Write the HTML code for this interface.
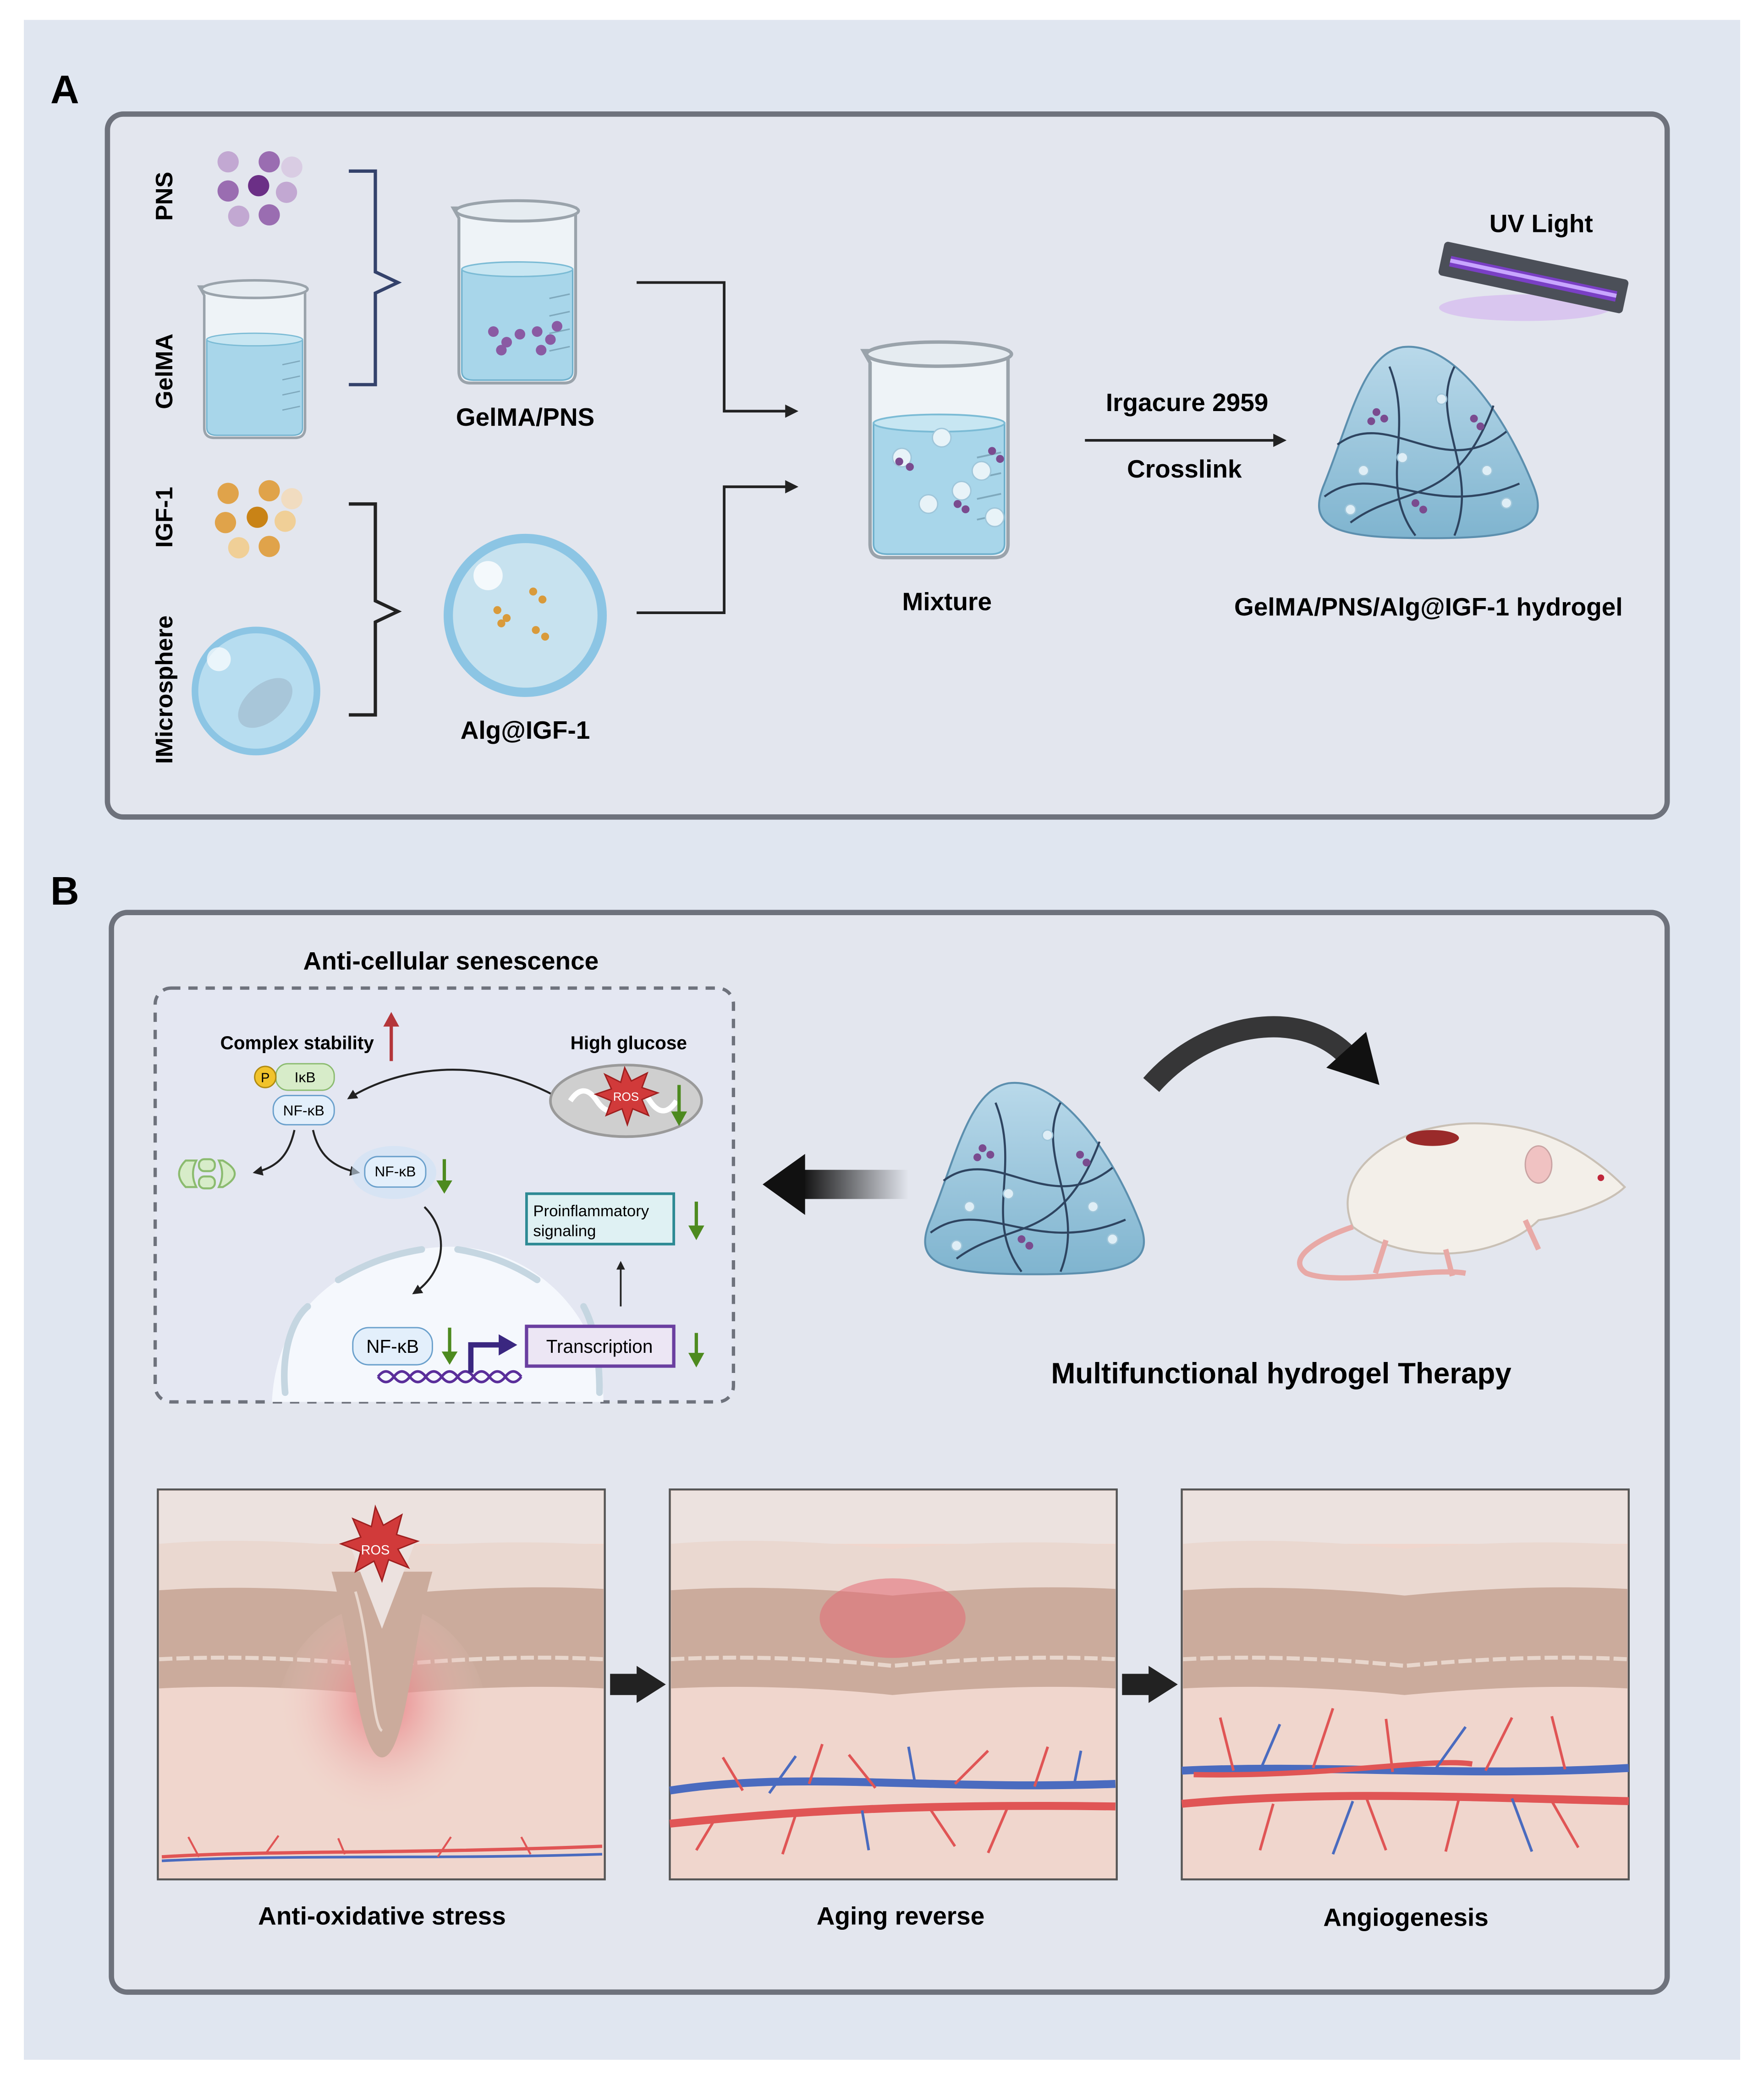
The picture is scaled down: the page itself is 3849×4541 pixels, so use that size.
<!DOCTYPE html>
<html><head><meta charset="utf-8"><style>
html,body{margin:0;padding:0;background:#fff;}
svg{display:block;}
text{font-family:"Liberation Sans",sans-serif;}
</style></head><body>
<svg width="3849" height="4541" viewBox="0 0 1330 1569" preserveAspectRatio="none" xmlns="http://www.w3.org/2000/svg">
<defs>
<marker id="ah" viewBox="0 0 10 10" refX="8" refY="5" markerWidth="5" markerHeight="5" orient="auto"><path d="M0,0 L10,5 L0,10 z" fill="#222"/></marker>
<radialGradient id="red" cx="50%" cy="40%" r="50%"><stop offset="0" stop-color="#e8737a" stop-opacity="0.9"/><stop offset="1" stop-color="#f0d5cc" stop-opacity="0"/></radialGradient>
<linearGradient id="fadeL" x1="0" x2="1"><stop offset="0" stop-color="#111"/><stop offset="1" stop-color="#111" stop-opacity="0"/></linearGradient>
<linearGradient id="gel" x1="0" y1="0" x2="0" y2="1"><stop offset="0" stop-color="#b9d9ea"/><stop offset="1" stop-color="#7fb4cf"/></linearGradient>
<g id="hydro">
<path d="M-20,-85 C20,-90 60,-30 80,20 C95,55 70,62 0,62 C-70,62 -95,55 -80,20 C-60,-30 -50,-80 -20,-85 Z" fill="url(#gel)" stroke="#5c8fae" stroke-width="1.5"/>
<path d="M-70,-10 C-30,-40 10,20 60,-20 M-80,30 C-40,0 0,50 70,20 M-30,-70 C-10,-20 -40,20 -10,60 M20,-70 C0,-30 40,10 20,60 M-60,50 C-20,20 20,40 50,-40" fill="none" stroke="#2e4460" stroke-width="1.6"/>
<g fill="#7a4b8f"><circle cx="-40" cy="-35" r="3"/><circle cx="-34" cy="-30" r="3"/><circle cx="-44" cy="-28" r="3"/><circle cx="35" cy="-30" r="3"/><circle cx="40" cy="-24" r="3"/><circle cx="-10" cy="35" r="3"/><circle cx="-4" cy="40" r="3"/></g>
<g fill="#dfeef6" stroke="#9fc6da"><circle cx="-50" cy="10" r="4"/><circle cx="10" cy="-45" r="4"/><circle cx="45" cy="10" r="4"/><circle cx="-20" cy="0" r="4"/><circle cx="60" cy="35" r="4"/><circle cx="-60" cy="40" r="4"/></g>
</g>
<g id="beaker">
<path d="M-40,-55 L-44,-62 L40,-62 L40,50 Q40,58 32,58 L-32,58 Q-40,58 -40,50 Z" fill="#eef3f7" stroke="#9aa3ab" stroke-width="2"/>
<path d="M-38,-20 L38,-20 L38,50 Q38,56 30,56 L-30,56 Q-38,56 -38,50 Z" fill="#a8d6ea" stroke="#6fb0cc" stroke-width="1"/>
<ellipse cx="0" cy="-20" rx="38" ry="5" fill="#c7e6f2" stroke="#7bbbd5"/>
<ellipse cx="0" cy="-60" rx="42" ry="7" fill="#e6ecf1" stroke="#9aa3ab" stroke-width="2"/>
<path d="M22,0 L36,-3 M22,12 L36,9 M22,24 L36,21 M22,36 L36,33" stroke="#7fa9bd" stroke-width="1"/>
</g>
<g id="skin">
<rect x="0" y="0" width="337" height="294" fill="#f0d6cd" stroke="#555" stroke-width="1.5"/>
<rect x="1" y="1" width="335" height="40" fill="#ece2df"/>
<path d="M1,41 C60,36 120,40 168,45 C220,40 280,38 336,42 L336,75 C280,72 220,75 168,80 C120,75 60,72 1,76 Z" fill="#ead8d0"/>
<path d="M1,76 C60,72 120,75 168,80 C220,75 280,72 336,75 L336,150 C280,147 220,150 168,155 C120,150 60,147 1,150 Z" fill="#cbab9c"/>
<path d="M1,128 C60,125 120,128 168,133 C220,128 280,125 336,128" fill="none" stroke="#e8d6cc" stroke-width="3" stroke-dasharray="10,3"/>
</g>
</defs>
<rect width="1330" height="1569" fill="#fff"/>
<rect x="18" y="15" width="1294" height="1538" fill="#e0e6f0"/>
<text x="38" y="78" font-size="30" font-weight="bold">A</text>
<text x="38" y="682" font-size="30" font-weight="bold">B</text>
<rect x="81" y="86" width="1176" height="530" rx="12" fill="#e3e6ee" stroke="#6e727c" stroke-width="4"/>
<rect x="84" y="688" width="1173" height="814" rx="12" fill="#e3e6ee" stroke="#6e727c" stroke-width="4"/>

<!-- Panel A -->
<g font-weight="bold" font-size="18">
<text transform="translate(130,148) rotate(-90)" text-anchor="middle">PNS</text>
<text transform="translate(130,280) rotate(-90)" text-anchor="middle">GelMA</text>
<text transform="translate(130,390) rotate(-90)" text-anchor="middle">IGF-1</text>
<text transform="translate(130,520) rotate(-90)" text-anchor="middle">IMicrosphere</text>
</g>
<g fill="#9a6db1"><circle cx="172" cy="122" r="8" fill="#c2a8d2"/><circle cx="203" cy="122" r="8"/><circle cx="220" cy="126" r="8" fill="#d9cce3"/><circle cx="172" cy="144" r="8"/><circle cx="195" cy="140" r="8" fill="#6b2f86"/><circle cx="216" cy="145" r="8" fill="#c2a8d2"/><circle cx="180" cy="163" r="8" fill="#c2a8d2"/><circle cx="203" cy="162" r="8"/></g>
<use href="#beaker" transform="translate(192,275) scale(0.95)"/>
<path d="M263,129 H283 V205 L300,213 L283,221 V290 H263" fill="none" stroke="#34426b" stroke-width="2.5"/>
<use href="#beaker" transform="translate(390,225) scale(1.1)"/>
<g fill="#8a5aa3"><circle cx="372" cy="250" r="4"/><circle cx="382" cy="258" r="4"/><circle cx="392" cy="252" r="4"/><circle cx="378" cy="264" r="4"/><circle cx="405" cy="250" r="4"/><circle cx="415" cy="256" r="4"/><circle cx="408" cy="264" r="4"/><circle cx="420" cy="246" r="4"/></g>
<text x="396" y="321" font-size="19" font-weight="bold" text-anchor="middle">GelMA/PNS</text>
<g fill="#e0a34a"><circle cx="172" cy="372" r="8"/><circle cx="203" cy="370" r="8"/><circle cx="220" cy="376" r="8" fill="#f1dcc0"/><circle cx="170" cy="394" r="8"/><circle cx="194" cy="390" r="8" fill="#c98316"/><circle cx="215" cy="393" r="8" fill="#f0cf97"/><circle cx="180" cy="413" r="8" fill="#f0cf97"/><circle cx="203" cy="412" r="8"/></g>
<circle cx="193" cy="521" r="46" fill="#b7ddf0" stroke="#8cc5e4" stroke-width="5"/>
<ellipse cx="200" cy="530" rx="24" ry="14" fill="#9fb8c9" opacity="0.6" transform="rotate(-40 200 530)"/>
<circle cx="165" cy="497" r="9" fill="#fff" opacity="0.7"/>
<path d="M263,380 H283 V453 L300,461 L283,469 V539 H263" fill="none" stroke="#222" stroke-width="2.5"/>
<circle cx="396" cy="464" r="58" fill="#c7e2ef" stroke="#8cc5e4" stroke-width="7"/>
<circle cx="368" cy="434" r="11" fill="#fff" opacity="0.8"/>
<g fill="#d99a3a"><circle cx="375" cy="460" r="3"/><circle cx="382" cy="466" r="3"/><circle cx="378" cy="470" r="3"/><circle cx="402" cy="446" r="3"/><circle cx="409" cy="452" r="3"/><circle cx="404" cy="475" r="3"/><circle cx="411" cy="480" r="3"/></g>
<text x="396" y="557" font-size="19" font-weight="bold" text-anchor="middle">Alg@IGF-1</text>
<path d="M480,213 H546 V310 H600" fill="none" stroke="#222" stroke-width="2" marker-end="url(#ah)"/>
<path d="M480,462 H546 V367 H600" fill="none" stroke="#222" stroke-width="2" marker-end="url(#ah)"/>
<use href="#beaker" transform="translate(708,345) scale(1.3)"/>
<g fill="#e8f3f8" stroke="#9fc6da"><circle cx="680" cy="345" r="7"/><circle cx="710" cy="330" r="7"/><circle cx="740" cy="355" r="7"/><circle cx="700" cy="380" r="7"/><circle cx="750" cy="390" r="7"/><circle cx="725" cy="370" r="7"/></g>
<g fill="#7a4b8f"><circle cx="678" cy="348" r="3"/><circle cx="686" cy="352" r="3"/><circle cx="748" cy="340" r="3"/><circle cx="754" cy="346" r="3"/><circle cx="722" cy="380" r="3"/><circle cx="728" cy="384" r="3"/></g>
<text x="714" y="460" font-size="19" font-weight="bold" text-anchor="middle">Mixture</text>
<text x="895" y="310" font-size="19" font-weight="bold" text-anchor="middle">Irgacure 2959</text>
<text x="893" y="360" font-size="19" font-weight="bold" text-anchor="middle">Crosslink</text>
<path d="M818,332 H968" stroke="#222" stroke-width="2" marker-end="url(#ah)"/>
<text x="1162" y="175" font-size="19" font-weight="bold" text-anchor="middle">UV Light</text>
<ellipse cx="1150" cy="232" rx="65" ry="10" fill="#d4b8ef" opacity="0.7"/>
<g transform="rotate(12 1155 210)"><rect x="1085" y="196" width="142" height="26" rx="3" fill="#4b4f58"/><rect x="1092" y="206" width="128" height="8" fill="#7a3fc5"/><rect x="1092" y="208" width="128" height="3" fill="#c8a6ff"/></g>
<use href="#hydro" transform="translate(1077,345) scale(0.98)"/>
<text x="1077" y="464" font-size="19" font-weight="bold" text-anchor="middle">GelMA/PNS/Alg@IGF-1 hydrogel</text>

<!-- Panel B -->
<text x="340" y="731" font-size="19" font-weight="bold" text-anchor="middle">Anti-cellular senescence</text>
<rect x="117" y="745" width="436" height="312" rx="12" fill="#e4e7f2" stroke="#6e727c" stroke-width="2.5" stroke-dasharray="7,6"/>
<path d="M205,1057 C210,960 300,940 340,940 C400,940 455,990 455,1057 Z" fill="#f5f8fd"/>
<path d="M215,1050 C212,1020 220,995 232,985" fill="none" stroke="#c5d6e1" stroke-width="5" stroke-linecap="round"/>
<path d="M255,965 C280,950 300,945 318,942" fill="none" stroke="#c5d6e1" stroke-width="5" stroke-linecap="round"/>
<path d="M345,942 C370,946 390,955 405,965" fill="none" stroke="#c5d6e1" stroke-width="5" stroke-linecap="round"/>
<path d="M440,985 C448,1000 452,1020 452,1050" fill="none" stroke="#c5d6e1" stroke-width="5" stroke-linecap="round"/>
<text x="224" y="791" font-size="14" font-weight="bold" text-anchor="middle">Complex stability</text>
<path d="M295,800 V772" stroke="#b4363a" stroke-width="2.5"/><path d="M289,774 L295,763 L301,774 Z" fill="#b4363a"/>
<text x="474" y="791" font-size="14" font-weight="bold" text-anchor="middle">High glucose</text>
<rect x="208" y="802" width="44" height="20" rx="9" fill="#d7ecc9" stroke="#8bbb6f"/><text x="230" y="816" font-size="11" text-anchor="middle">IκB</text>
<circle cx="200" cy="812" r="8" fill="#f1c32b" stroke="#b08a10"/><text x="200" y="816" font-size="10" text-anchor="middle">P</text>
<rect x="206" y="826" width="46" height="22" rx="10" fill="#e3effb" stroke="#6aa0cc"/><text x="229" y="841" font-size="11" text-anchor="middle">NF-κB</text>
<path d="M418,826 C360,795 300,805 263,828" fill="none" stroke="#222" stroke-width="1.5" marker-end="url(#ah)"/>
<ellipse cx="472" cy="830" rx="57" ry="27" fill="#cfcfcf" stroke="#9a9a9a" stroke-width="2"/>
<path d="M430,830 q10,-15 20,0 q10,15 20,0 q10,-15 20,0 q10,15 20,0" fill="none" stroke="#fff" stroke-width="4"/>
<path d="M471,805 l5,10 l12,-6 l-4,11 l12,4 l-12,5 l5,12 l-12,-5 l-4,12 l-4,-12 l-12,5 l4,-11 l-12,-5 l12,-4 l-5,-11 l12,6 Z" fill="#d13a3a" stroke="#9f1f1f"/>
<text x="472" y="830" font-size="9" fill="#fff" text-anchor="middle">ROS</text>
<path d="M512,818 V840" stroke="#4d8a1f" stroke-width="2.5"/><path d="M506,838 L512,849 L518,838 Z" fill="#4d8a1f"/>
<path d="M222,852 C218,870 210,880 192,884" fill="none" stroke="#222" stroke-width="1.5" marker-end="url(#ah)"/>
<path d="M236,852 C240,870 250,880 270,884" fill="none" stroke="#222" stroke-width="1.5" marker-end="url(#ah)"/>
<g fill="#d7ecc9" stroke="#8bbb6f" stroke-width="1.5"><path d="M140,875 q-10,10 0,20 l8,0 q-5,-10 0,-20 z"/><rect x="150" y="874" width="12" height="9" rx="4"/><rect x="150" y="887" width="12" height="9" rx="4"/><path d="M168,875 q18,10 0,20 l-3,0 q5,-10 0,-20 z"/></g>
<ellipse cx="297" cy="884" rx="32" ry="20" fill="#cfe3f5" opacity="0.6"/>
<rect x="275" y="872" width="46" height="23" rx="10" fill="#e3effb" stroke="#6aa0cc"/><text x="298" y="887" font-size="11" text-anchor="middle">NF-κB</text>
<path d="M335,874 V892" stroke="#4d8a1f" stroke-width="2.5"/><path d="M329,890 L335,900 L341,890 Z" fill="#4d8a1f"/>
<path d="M320,910 C340,930 335,960 312,975" fill="none" stroke="#222" stroke-width="1.5" marker-end="url(#ah)"/>
<rect x="397" y="900" width="111" height="38" fill="#dff1f3" stroke="#2d8a94" stroke-width="2"/>
<text x="402" y="917" font-size="12">Proinflammatory</text><text x="402" y="932" font-size="12">signaling</text>
<path d="M525,906 V926" stroke="#4d8a1f" stroke-width="2.5"/><path d="M519,924 L525,935 L531,924 Z" fill="#4d8a1f"/>
<path d="M468,985 V952" stroke="#222" stroke-width="1.3" marker-end="url(#ah)"/>
<rect x="266" y="1001" width="60" height="28" rx="12" fill="#e3effb" stroke="#6aa0cc"/><text x="296" y="1020" font-size="14" text-anchor="middle">NF-κB</text>
<path d="M339,1001 V1021" stroke="#4d8a1f" stroke-width="2.5"/><path d="M333,1019 L339,1029 L345,1019 Z" fill="#4d8a1f"/>
<path d="M285,1038 q6,-8 12,0 q6,8 12,0 q6,-8 12,0 q6,8 12,0 q6,-8 12,0 q6,8 12,0 q6,-8 12,0 q6,8 12,0 q6,-8 12,0" fill="none" stroke="#5a2e9a" stroke-width="2"/>
<path d="M285,1038 q6,8 12,0 q6,-8 12,0 q6,8 12,0 q6,-8 12,0 q6,8 12,0 q6,-8 12,0 q6,8 12,0 q6,-8 12,0 q6,8 12,0" fill="none" stroke="#5a2e9a" stroke-width="2"/>
<path d="M355,1035 V1014 H378" fill="none" stroke="#3a2780" stroke-width="4"/><path d="M376,1006 L390,1014 L376,1022 Z" fill="#3a2780"/>
<rect x="397" y="1000" width="111" height="30" fill="#ece6f4" stroke="#6a3fa0" stroke-width="2.5"/><text x="452" y="1020" font-size="14" text-anchor="middle">Transcription</text>
<path d="M525,1005 V1022" stroke="#4d8a1f" stroke-width="2.5"/><path d="M519,1020 L525,1031 L531,1020 Z" fill="#4d8a1f"/>
<rect x="605" y="882" width="80" height="22" fill="url(#fadeL)"/>
<path d="M575,893 L607,870 L607,916 Z" fill="#111"/>
<use href="#hydro" transform="translate(780,900) scale(0.98)"/>
<path d="M868,818 C910,770 980,760 1015,795" fill="none" stroke="#222" stroke-width="16" opacity="0.9"/>
<path d="M1000,805 L1040,818 L1030,778 Z" fill="#111"/>
<path d="M1020,925 C1000,880 1060,840 1130,848 C1170,852 1200,870 1225,895 C1215,905 1190,915 1160,920 C1130,950 1060,955 1020,925 Z" fill="#f3efe9" stroke="#c9c0b5" stroke-width="1.5"/>
<ellipse cx="1160" cy="878" rx="10" ry="14" fill="#f0c2c2" stroke="#c9a3a3"/>
<ellipse cx="1080" cy="858" rx="20" ry="6" fill="#9a2a2a"/>
<circle cx="1207" cy="888" r="2.5" fill="#c0263a"/>
<path d="M1020,925 C990,935 970,950 985,960 C1010,970 1080,955 1105,960" fill="none" stroke="#e8a9a6" stroke-width="4"/>
<path d="M1045,935 l-8,25 M1090,942 l5,20 M1150,920 l10,22" stroke="#e8a9a6" stroke-width="4"/>
<text x="966" y="1043" font-size="22" font-weight="bold" text-anchor="middle">Multifunctional hydrogel Therapy</text>

<use href="#skin" transform="translate(119,1123)"/>
<use href="#skin" transform="translate(505,1123)"/>
<use href="#skin" transform="translate(891,1123)"/>
<ellipse cx="288" cy="1300" rx="80" ry="90" fill="url(#red)"/>
<path d="M250,1185 C265,1235 270,1325 288,1325 C306,1325 311,1235 326,1185 Z" fill="#cbab9c"/>
<path d="M268,1200 C280,1240 280,1300 288,1305" fill="none" stroke="#e8d6cc" stroke-width="2"/>
<path d="M262,1160 L288,1228 L314,1160 Z" fill="#ece2df"/>
<path d="M283,1136 l6,14 l14,-8 l-4,15 l16,5 l-15,6 l8,14 l-15,-6 l-5,16 l-6,-15 l-14,8 l4,-15 l-15,-6 l15,-5 l-6,-14 l14,6 Z" fill="#d13a3a" stroke="#9f1f1f"/>
<text x="283" y="1172" font-size="10" fill="#fff" text-anchor="middle">ROS</text>
<path d="M122,1400 C200,1395 300,1398 454,1392" stroke="#e05555" stroke-width="2.5" fill="none"/>
<path d="M122,1403 C220,1398 330,1402 454,1398" stroke="#4a6bbf" stroke-width="2" fill="none"/>
<path d="M150,1400 l-8,-15 M200,1398 l10,-14 M260,1398 l-5,-12 M330,1400 l10,-15 M400,1398 l-7,-13" stroke="#e05555" stroke-width="1.5"/>
<ellipse cx="673" cy="1220" rx="55" ry="30" fill="#e46a74" opacity="0.55"/>
<path d="M505,1350 C600,1335 700,1350 841,1345" stroke="#4a6bbf" stroke-width="6" fill="none"/>
<path d="M505,1375 C600,1365 700,1360 841,1362" stroke="#e05555" stroke-width="6" fill="none"/>
<path d="M560,1350 l-15,-25 M610,1345 l10,-30 M660,1348 l-20,-25 M720,1345 l25,-25 M780,1347 l10,-30 M600,1368 l-10,30 M700,1362 l20,30 M760,1362 l-15,35 M540,1370 l-15,25" stroke="#e05555" stroke-width="2"/>
<path d="M580,1352 l20,-28 M690,1345 l-5,-28 M810,1345 l5,-25 M650,1365 l5,30" stroke="#4a6bbf" stroke-width="2"/>
<path d="M891,1335 C1000,1330 1100,1340 1228,1333" stroke="#4a6bbf" stroke-width="6" fill="none"/>
<path d="M891,1360 C1000,1350 1100,1355 1228,1358" stroke="#e05555" stroke-width="6" fill="none"/>
<path d="M900,1338 C1000,1340 1080,1325 1110,1330" stroke="#e05555" stroke-width="4" fill="none"/>
<path d="M930,1335 l-10,-40 M990,1333 l15,-45 M1050,1336 l-5,-40 M1120,1335 l20,-40 M1180,1334 l-10,-40 M960,1360 l-10,35 M1030,1355 l15,40 M1100,1356 l-10,40 M1170,1358 l20,35" stroke="#e05555" stroke-width="2"/>
<path d="M950,1335 l15,-35 M1080,1337 l25,-35 M1020,1358 l-15,40 M1140,1356 l15,40" stroke="#4a6bbf" stroke-width="2"/>
<rect x="460" y="1262" width="22" height="16" fill="#222"/><path d="M480,1256 L502,1270 L480,1284 Z" fill="#222"/>
<rect x="846" y="1262" width="22" height="16" fill="#222"/><path d="M866,1256 L888,1270 L866,1284 Z" fill="#222"/>
<g font-size="19" font-weight="bold" text-anchor="middle">
<text x="288" y="1451">Anti-oxidative stress</text>
<text x="679" y="1451">Aging reverse</text>
<text x="1060" y="1452">Angiogenesis</text>
</g>
</svg>
</body></html>
